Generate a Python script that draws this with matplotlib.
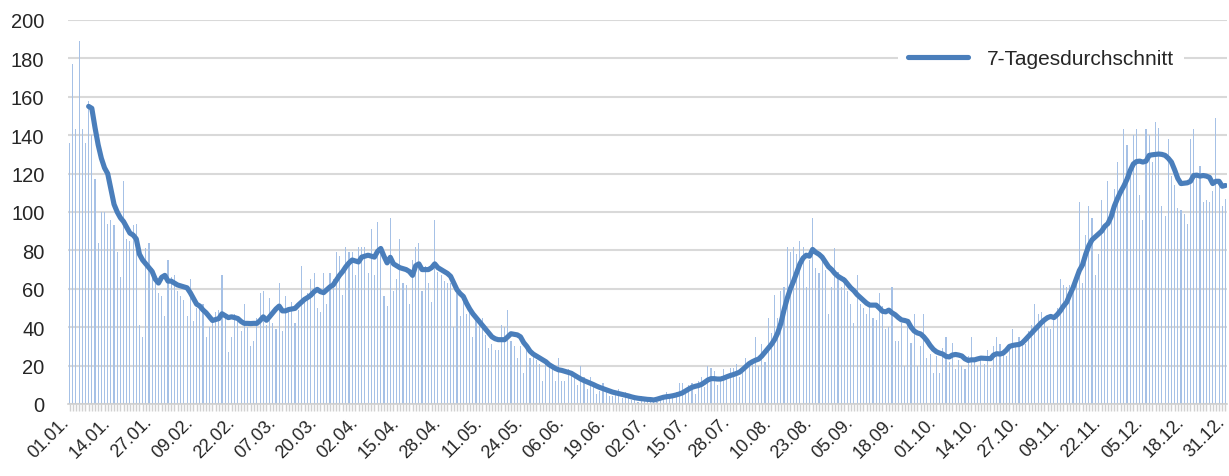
import numpy as np
import pandas as pd
import matplotlib
matplotlib.use('Agg')
import matplotlib.pyplot as plt
import matplotlib.transforms as mtransforms

# daily values, one row per week (01.01. - 31.12.)
daily = [
    136, 177, 143, 189, 143, 136, 158,
    140, 117, 84, 100, 100, 94, 96,
    93, 79, 66, 116, 86, 85, 93,
    94, 41, 35, 81, 84, 71, 66,
    58, 56, 46, 75, 66, 67, 59,
    56, 54, 46, 65, 43, 50, 51,
    52, 35, 40, 43, 48, 49, 67,
    46, 27, 35, 47, 44, 38, 52,
    40, 30, 33, 45, 58, 59, 41,
    55, 42, 39, 63, 38, 56, 49,
    53, 42, 49, 72, 54, 58, 65,
    68, 50, 48, 68, 52, 68, 65,
    79, 77, 57, 82, 79, 79, 67,
    82, 82, 82, 68, 91, 67, 95,
    79, 56, 51, 97, 59, 65, 86,
    63, 62, 52, 75, 82, 84, 59,
    72, 63, 53, 96, 69, 67, 64,
    63, 63, 40, 58, 46, 54, 47,
    48, 35, 44, 43, 45, 36, 29,
    31, 28, 28, 41, 40, 49, 33,
    30, 24, 30, 16, 28, 24, 27,
    23, 21, 12, 21, 21, 18, 12,
    24, 12, 12, 18, 17, 16, 10,
    20, 14, 8, 14, 11, 5, 7,
    11, 8, 4, 4, 5, 8, 3,
    6, 3, 2, 2, 1, 4, 2,
    3, 1, 2, 1, 4, 3, 6,
    5, 3, 6, 11, 11, 5, 10,
    11, 5, 12, 14, 9, 20, 19,
    17, 10, 13, 18, 14, 19, 19,
    21, 14, 18, 24, 21, 23, 35,
    20, 31, 22, 45, 37, 57, 45,
    59, 61, 82, 79, 82, 78, 85,
    82, 61, 75, 97, 71, 68, 77,
    70, 47, 61, 81, 69, 61, 66,
    59, 52, 42, 67, 52, 50, 47,
    51, 45, 44, 58, 51, 39, 40,
    61, 33, 33, 42, 20, 41, 32,
    47, 20, 30, 47, 24, 26, 16,
    25, 16, 29, 35, 22, 32, 18,
    23, 20, 18, 25, 35, 24, 20,
    24, 21, 28, 19, 30, 35, 31,
    28, 25, 28, 39, 31, 35, 32,
    31, 38, 41, 52, 47, 48, 43,
    40, 39, 46, 50, 65, 62, 61,
    62, 61, 66, 105, 63, 88, 103,
    97, 67, 78, 106, 92, 116, 101,
    112, 126, 110, 143, 135, 119, 140,
    143, 109, 96, 143, 140, 126, 147,
    144, 103, 98, 138, 119, 114, 102,
    101, 99, 94, 138, 143, 120, 124,
    105, 106, 105, 111, 149, 114, 103,
    107,
]

# 7-day average, starting on 07.01.
avg7 = [
    155, 154, 144, 135, 128, 123, 120, 112, 104, 100,
    97, 95, 92, 89, 88, 86, 78, 75, 73, 71,
    69, 65, 63, 66, 67, 64, 64, 63, 62, 61.5,
    61, 60.5, 58, 55, 52, 51, 49, 47.5, 45.5, 43.5,
    44, 44.5, 47, 46, 45, 45.4, 45, 44.5, 43, 42,
    42, 41.9, 42, 42, 43.5, 45.4, 43.6, 45.5, 47.5, 49.5,
    51, 48.5, 48.5, 49.2, 49.5, 49.8, 51.5, 53, 54.5, 55.5,
    56.7, 58.5, 59.7, 58.5, 58, 59.5, 61, 62, 64.5, 67,
    69, 71.5, 73.5, 75, 74.5, 74, 76.5, 77, 77.5, 77,
    76.5, 79.5, 81, 77, 73.5, 76.4, 73, 72, 71, 70.5,
    70, 69, 67, 72, 73, 70, 70, 70, 71, 73,
    71, 70, 69, 68, 66.5, 63, 59.5, 57.5, 56, 52.5,
    49.5, 47, 45, 43, 41, 39, 37, 35, 34, 33.5,
    33.5, 33.5, 35, 36.6, 36.3, 36, 35, 32, 30, 27.5,
    26, 25, 24, 23, 22, 20.5, 19.5, 18.5, 17.8, 17.5,
    17, 16.5, 16, 15, 14, 13, 12.2, 11.5, 10.8, 10.1,
    9.3, 8.6, 8, 7.4, 6.8, 6.2, 5.8, 5.4, 5, 4.6,
    4.2, 3.7, 3.3, 3, 2.8, 2.6, 2.4, 2.3, 2.1, 2.5,
    3, 3.5, 3.8, 4, 4.3, 4.7, 5.2, 5.8, 6.8, 7.8,
    8.7, 9.2, 9.6, 10.2, 11.3, 12.5, 13.2, 13.2, 13, 13,
    13.5, 14.2, 14.8, 15.3, 15.9, 16.6, 18, 19.5, 21, 22,
    22.8, 23.4, 25, 27, 29, 31, 33.5, 37, 42, 49,
    55, 60, 64, 68.5, 73, 76, 77.5, 77, 80.5, 79,
    78, 76.5, 74, 71.5, 70, 68, 66.5, 65.5, 64.5, 62.5,
    60.5, 59, 57, 55.5, 54, 52.5, 51.5, 51.5, 51.5, 50,
    48.3, 48, 48.9, 47.5, 46.5, 45, 43.8, 43.5, 43, 40,
    38, 37, 36.5, 35, 33, 30.5, 28.5, 27.2, 26.5, 26,
    24.8, 24.5, 25.5, 25.8, 25.5, 25, 23.5, 22.7, 23, 23,
    23.5, 23.9, 23.8, 23.7, 23.6, 25.5, 26.2, 26, 26.5, 28,
    30, 30.5, 30.8, 31, 31.8, 33.5, 35.3, 37, 38.8, 40.5,
    42.3, 43.8, 45, 45.6, 45, 46.5, 48.5, 51, 53, 57,
    60.5, 65, 69.5, 72.5, 78, 82.5, 85.5, 87, 88.5, 90,
    92.5, 94, 97.5, 103, 107, 110.5, 113.5, 117, 121.5, 125,
    126.3, 126.5, 126, 126.5, 129.5, 129.8, 130, 130.2, 130, 129.5,
    128, 126, 122, 117.5, 114.8, 115, 115.2, 116, 119, 119.2,
    118.7, 119, 118.7, 118, 114.8, 116, 116, 113.4, 113.8,
]

dates = pd.date_range('2021-01-01', periods=len(daily), freq='D')
labels = dates.strftime('%d.%m.')
days = np.arange(len(daily))
avg_days = days[len(daily) - len(avg7):]

plt.rcParams['font.family'] = ['Liberation Sans', 'DejaVu Sans']

fig = plt.figure(figsize=(12.29, 4.77), dpi=100)
ax = fig.add_axes([68 / 1229, 72 / 477, 1159 / 1229, 384 / 477])

ax.bar(days, daily, width=0.35, color='#a6c1e6', zorder=2)
ax.plot(avg_days, avg7, color='#4a7ebb', lw=3.7, solid_capstyle='round',
        solid_joinstyle='round', zorder=3, label='7-Tagesdurchschnitt')

ax.set_xlim(-0.5, len(daily) - 0.5)
ax.set_ylim(0, 200)
ax.set_yticks(np.arange(0, 201, 20))
ax.yaxis.grid(True, color='#d9d9d9', lw=1.5, zorder=0)
ax.set_axisbelow(True)

ax.set_xticks(days[::13])
ax.set_xticklabels(labels[::13], rotation=45, ha='right', va='top',
                   rotation_mode='anchor')
ax.set_xticks(days, minor=True)
ax.tick_params(axis='x', which='both', length=5, color='#d0d0d0', width=1, direction='out')
ax.tick_params(axis='x', which='major', pad=3, labelsize=13, labelcolor='#262626')
ax.tick_params(axis='y', length=0, pad=17, labelsize=14.5, labelcolor='#262626')

# nudge the rotated labels left so their ends sit at the ticks
shift = mtransforms.ScaledTranslation(-9 / 100, 2 / 100, fig.dpi_scale_trans)
for lab in ax.get_xticklabels():
    lab.set_transform(lab.get_transform() + shift)

for s in ['top', 'right', 'left']:
    ax.spines[s].set_visible(False)
ax.spines['bottom'].set_color('#d0d0d0')
ax.spines['bottom'].set_linewidth(1.2)

leg = ax.legend(loc='center', bbox_to_anchor=(0.8395, 0.9), fontsize=15,
                frameon=True, handlelength=2.85, handletextpad=0.9,
                borderpad=0.5, fancybox=False)
leg.get_frame().set_facecolor('white')
leg.get_frame().set_edgecolor('none')
leg.get_frame().set_alpha(1)
for t in leg.get_texts():
    t.set_color('#262626')

fig.savefig('out.png', dpi=100)
